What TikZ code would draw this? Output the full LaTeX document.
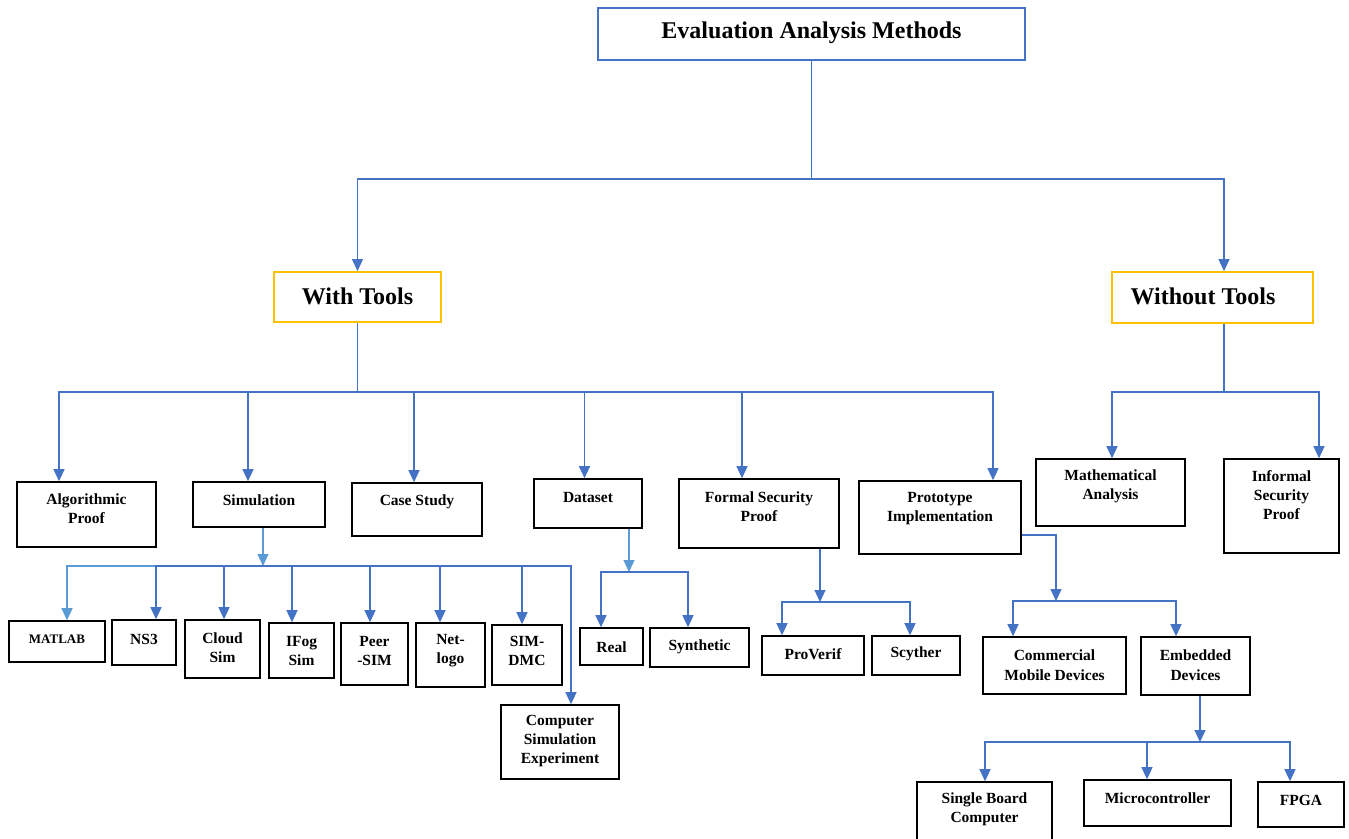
\documentclass[tikz,border=0pt]{standalone}
\usepackage{fontspec}
\setmainfont{Liberation Serif}
\usetikzlibrary{arrows.meta}
\definecolor{cblue}{HTML}{4472C4}
\definecolor{lblue}{HTML}{5B9BD5}
\definecolor{cyel}{HTML}{FFC000}
\begin{document}
\begin{tikzpicture}[x=1pt,y=-1pt,
 box/.style={draw=black, line width=1.6pt, inner sep=0pt},
 lbl/.style={font=\bfseries\fontsize{15.5}{19}\selectfont, align=center, inner sep=0pt},
 conn/.style={draw=cblue, line width=1.2pt},
 arr/.style={conn, -{Triangle[width=11pt,length=12pt]}},
 arrl/.style={draw=lblue, line width=1.2pt, -{Triangle[width=11pt,length=12pt]}},
]
\useasboundingbox (0,0) rectangle (1349,838);

% ---------- boxes ----------
\node[box, draw=cblue, line width=1.8pt, minimum width=427pt, minimum height=52pt] (title) at (811.5,34) {};
\node[box, draw=cyel, line width=1.8pt, minimum width=167pt, minimum height=50pt] (with) at (357.5,297) {};
\node[box, draw=cyel, line width=1.8pt, minimum width=201pt, minimum height=51pt] (wo) at (1212.5,297.5) {};

\node[box, minimum width=139pt, minimum height=65pt] (alg) at (86.5,514.5) {};
\node[box, minimum width=132pt, minimum height=45pt] (sim) at (259,504.5) {};
\node[box, minimum width=130pt, minimum height=53pt] (case) at (417,509.5) {};
\node[box, minimum width=108pt, minimum height=49pt] (data) at (588,503.5) {};
\node[box, minimum width=160pt, minimum height=69pt] (formal) at (759,513.5) {};
\node[box, minimum width=162pt, minimum height=73pt] (proto) at (940,517.5) {};
\node[box, minimum width=149pt, minimum height=67pt] (math) at (1110.5,492.5) {};
\node[box, minimum width=115pt, minimum height=94pt] (inf) at (1281.5,506) {};

\node[box, minimum width=96pt, minimum height=41pt] (matlab) at (57,641.5) {};
\node[box, minimum width=64pt, minimum height=45pt] (ns3) at (144,642.5) {};
\node[box, minimum width=75pt, minimum height=58pt] (cloud) at (222.5,649) {};
\node[box, minimum width=65pt, minimum height=55pt] (ifog) at (301.5,650.5) {};
\node[box, minimum width=67pt, minimum height=62pt] (peer) at (374.5,654) {};
\node[box, minimum width=69pt, minimum height=64pt] (net) at (450.5,655) {};
\node[box, minimum width=70pt, minimum height=60pt] (simdmc) at (527,655) {};
\node[box, minimum width=118pt, minimum height=74pt] (comp) at (560,742) {};

\node[box, minimum width=63pt, minimum height=37pt] (real) at (611.5,646.5) {};
\node[box, minimum width=99pt, minimum height=39pt] (synth) at (699.5,647.5) {};
\node[box, minimum width=102pt, minimum height=39pt] (prov) at (813,655.5) {};
\node[box, minimum width=88pt, minimum height=39pt] (scy) at (916,655.5) {};
\node[box, minimum width=143pt, minimum height=57pt] (comm) at (1054.5,665.5) {};
\node[box, minimum width=109pt, minimum height=58pt] (emb) at (1195.5,666) {};
\node[box, minimum width=135pt, minimum height=62pt] (sbc) at (984.5,813) {};
\node[box, minimum width=147pt, minimum height=46pt] (micro) at (1157.5,803) {};
\node[box, minimum width=86pt, minimum height=45pt] (fpga) at (1301,804.5) {};

% ---------- texts ----------
\node[lbl, font=\bfseries\fontsize{24}{28}\selectfont] (title-t) at (811.5,33) {Evaluation Analysis Methods};
\node[lbl, font=\bfseries\fontsize{24}{28}\selectfont] (with-t) at (357.5,296) {With Tools};
\node[lbl, font=\bfseries\fontsize{24}{28}\selectfont] (wo-t) at (1203,296) {Without Tools};

\node[lbl] (alg-t) at (86.5,509) {Algorithmic\\Proof};
\node[lbl] (sim-t) at (259,500) {Simulation};
\node[lbl] (case-t) at (417,502) {Case Study};
\node[lbl] (data-t) at (588,497) {Dataset};
\node[lbl] (formal-t) at (759,506.5) {Formal Security\\Proof};
\node[lbl] (proto-t) at (940,508.5) {Prototype\\Implementation};
\node[lbl] (math-t) at (1110.5,486.5) {Mathematical\\Analysis};
\node[lbl] (inf-t) at (1281.5,495.5) {Informal\\Security\\Proof};

\node[lbl, font=\bfseries\fontsize{13}{16}\selectfont] (matlab-t) at (57,639) {MATLAB};
\node[lbl] (ns3-t) at (144,639) {NS3};
\node[lbl] (cloud-t) at (222.5,648) {Cloud\\Sim};
\node[lbl] (ifog-t) at (301.5,651) {IFog\\Sim};
\node[lbl] (peer-t) at (374.5,651) {Peer\\-SIM};
\node[lbl] (net-t) at (450.5,651) {Net-\\logo};
\node[lbl] (simdmc-t) at (527,651) {SIM-\\DMC};
\node[lbl] (comp-t) at (560,741.5) {Computer\\Simulation\\Experiment};

\node[lbl] (real-t) at (611.5,647) {Real};
\node[lbl] (synth-t) at (699.5,647) {Synthetic};
\node[lbl] (prov-t) at (813,654) {ProVerif};
\node[lbl] (scy-t) at (916,654) {Scyther};
\node[lbl, font=\bfseries\fontsize{15.5}{20}\selectfont] (comm-t) at (1054.5,665) {Commercial\\Mobile Devices};
\node[lbl, font=\bfseries\fontsize{15.5}{20}\selectfont] (emb-t) at (1195.5,665) {Embedded\\Devices};
\node[lbl] (sbc-t) at (984.5,809.5) {Single Board\\Computer};
\node[lbl] (micro-t) at (1157.5,798) {Microcontroller};
\node[lbl] (fpga-t) at (1301,800) {FPGA};

% ---------- junctions ----------
\coordinate (j1) at (811.5,179);
\coordinate (j2) at (357.5,392);
\coordinate (j3) at (1224,392);
\coordinate (j4) at (263,566);
\coordinate (j5) at (629,572);
\coordinate (j6) at (820,602);
\coordinate (j7) at (1056,601);
\coordinate (j8) at (1200,742);

% ---------- connectors ----------
\draw[conn] (title.south) -- (j1);
\draw[arr] (j1) -| (with.north);
\draw[arr] (j1) -| ([xshift=11.5pt]wo.north);

\draw[conn] (with.south) -- (j2);
\draw[arr] (j2) -| ([xshift=-27.5pt]alg.north);
\draw[arr] (j2) -| ([xshift=-11pt]sim.north);
\draw[arr] (j2) -| ([xshift=-3pt]case.north);
\draw[arr] (j2) -| ([xshift=-3.5pt]data.north);
\draw[arr] (j2) -| ([xshift=-17pt]formal.north);
\draw[arr] (j2) -| ([xshift=53pt]proto.north);

\draw[conn] ([xshift=11.5pt]wo.south) -- (j3);
\draw[arr] (j3) -| ([xshift=1.5pt]math.north);
\draw[arr] (j3) -| ([xshift=37.5pt]inf.north);

\draw[arrl] ([xshift=4pt]sim.south) -- (j4);
\draw[arrl] (j4) -| ([xshift=10pt]matlab.north);
\draw[arr] (j4) -| ([xshift=12pt]ns3.north);
\draw[arr] (j4) -| ([xshift=1.5pt]cloud.north);
\draw[arr] (j4) -| ([xshift=-9.5pt]ifog.north);
\draw[arr] (j4) -| ([xshift=-4.5pt]peer.north);
\draw[arr] (j4) -| ([xshift=-10.5pt]net.north);
\draw[arr] (j4) -| ([xshift=-5pt]simdmc.north);
\draw[arr] (j4) -| ([xshift=11pt]comp.north);

\draw[arrl] ([xshift=41pt]data.south) -- (j5);
\draw[arr] (j5) -| ([xshift=-10.5pt]real.north);
\draw[arr] (j5) -| ([xshift=-11.5pt]synth.north);

\draw[arr] ([xshift=61pt]formal.south) -- (j6);
\draw[arr] (j6) -| ([xshift=-31pt]prov.north);
\draw[arr] (j6) -| ([xshift=-6pt]scy.north);

\draw[arr] ([yshift=-17.5pt]proto.east) -| (j7);
\draw[arr] (j7) -| ([xshift=-41.5pt]comm.north);
\draw[arr] (j7) -| ([xshift=-19.5pt]emb.north);

\draw[arr] ([xshift=4.5pt]emb.south) -- (j8);
\draw[arr] (j8) -| ([xshift=0.5pt]sbc.north);
\draw[arr] (j8) -| ([xshift=-10.5pt]micro.north);
\draw[arr] (j8) -| ([xshift=-11pt]fpga.north);
\end{tikzpicture}
\end{document}
